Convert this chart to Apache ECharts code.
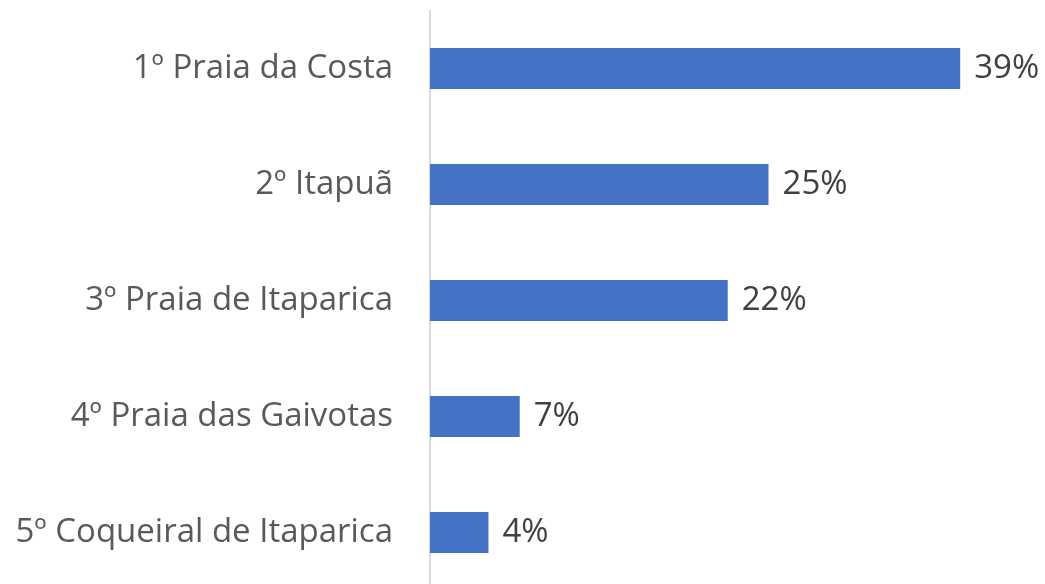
<!DOCTYPE html>
<html>
<head>
<meta charset="utf-8">
<script src="https://cdn.jsdelivr.net/npm/echarts@6/dist/echarts.min.js"></script>
<style>
  html, body { margin: 0; padding: 0; background: #ffffff; overflow: hidden; }
  #chart { width: 1045px; height: 600px; }
</style>
</head>
<body>
<div id="chart"></div>
<script>
var categories = ['5º Coqueiral de Itaparica', '4º Praia das Gaivotas', '3º Praia de Itaparica', '2º Itapuã', '1º Praia da Costa'];
var values = [4.3, 6.6, 21.9, 24.9, 39];
var labels = ['4%', '7%', '22%', '25%', '39%'];

var option = {
    backgroundColor: '#ffffff',
    animation: false,
    grid: {
        left: 430,
        top: 10.5,
        width: 571,
        height: 580
    },
    xAxis: {
        type: 'value',
        min: 0,
        max: 42,
        show: false
    },
    yAxis: {
        type: 'category',
        data: categories,
        axisTick: { show: false },
        axisLine: {
            show: true,
            lineStyle: { color: '#d9d9d9', width: 2 }
        },
        axisLabel: {
            margin: 37,
            color: '#595959',
            fontSize: 33,
            fontFamily: 'Open Sans',
            padding: [5, 0, 0, 0]
        }
    },
    series: [
        {
            type: 'bar',
            data: values,
            barWidth: 41,
            itemStyle: { color: '#4472c4' },
            label: {
                show: true,
                position: 'right',
                distance: 14,
                color: '#404040',
                fontSize: 33,
                fontFamily: 'Open Sans',
                padding: [5, 0, 0, 0],
                formatter: function (p) { return labels[p.dataIndex]; }
            }
        }
    ]
};

var myChart = echarts.init(document.getElementById('chart'));
myChart.setOption(option);
</script>
</body>
</html>
